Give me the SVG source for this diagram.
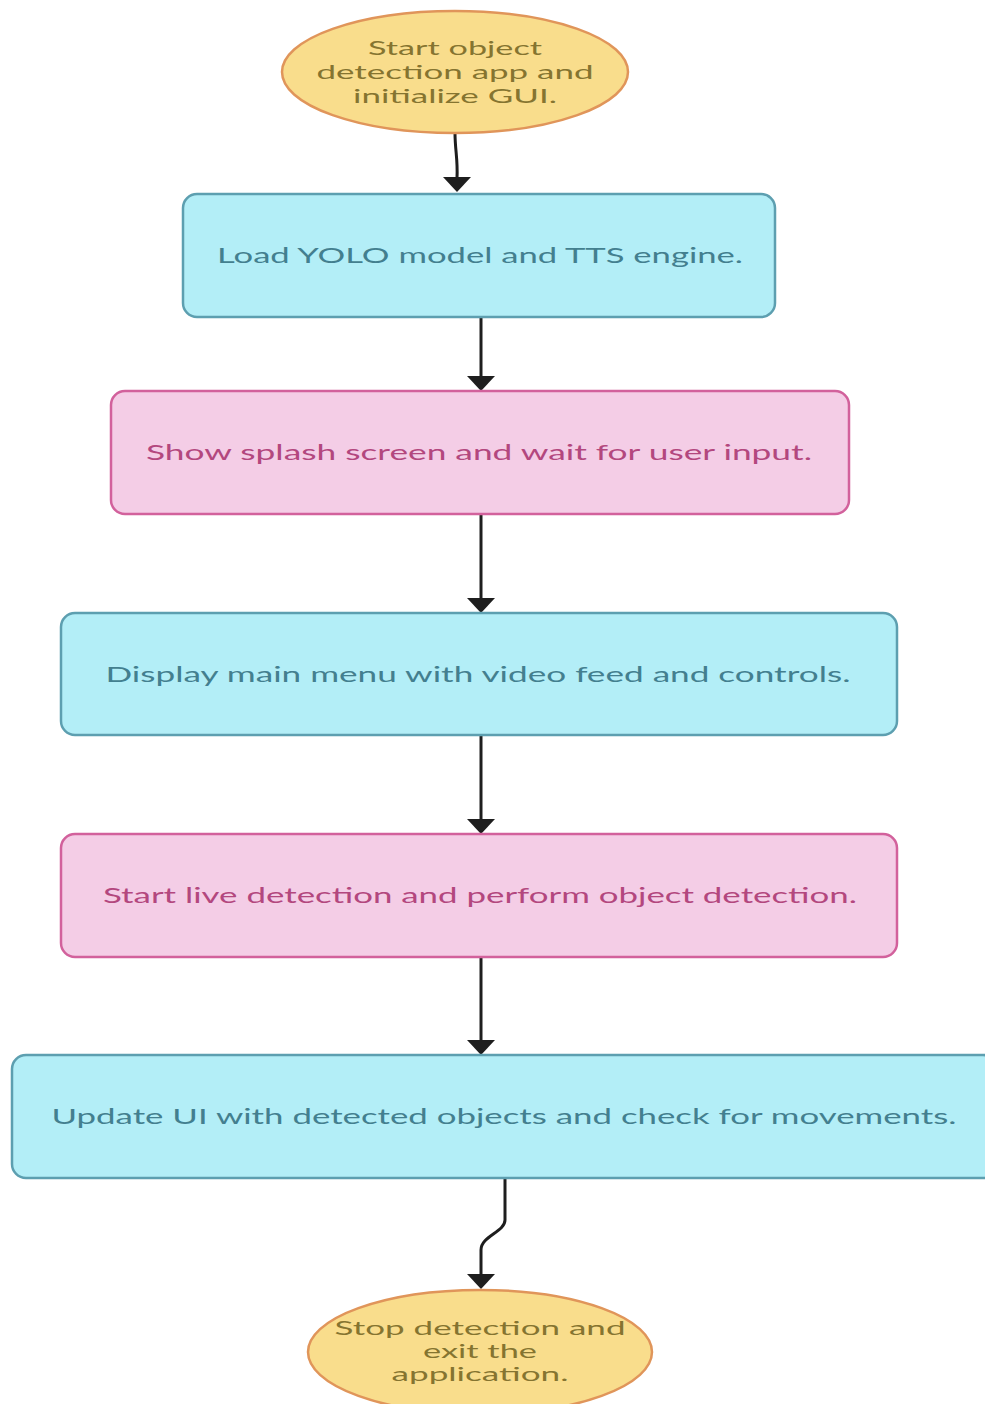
<svg xmlns="http://www.w3.org/2000/svg" width="985" height="1404" viewBox="0 0 985 1404">
<style>
text{font-family:Lato,"Open Sans","Liberation Sans",sans-serif;font-size:21px;text-anchor:middle}
.oval{fill:#f9dd8c;stroke:#e0955a;stroke-width:2.5}
.blue{fill:#b3eef7;stroke:#5d9fb0;stroke-width:2.5}
.pink{fill:#f4cde6;stroke:#d2619c;stroke-width:2.5}
.to{fill:#857430;font-size:19px}
.tb{fill:#437f8f}
.tp{fill:#b3477e}
.edge{fill:none;stroke:#1e1e1e;stroke-width:3}
.head{fill:#1e1e1e}
</style>
<rect width="985" height="1404" fill="#ffffff"/>
<g id="connectors">
<path class="edge" d="M455,133 C455,150 458,160 457,178"/>
<polygon class="head" points="443,177 471,177 457,192"/>
<path class="edge" d="M481,317 L481,377"/>
<polygon class="head" points="467,376 495,376 481,391"/>
<path class="edge" d="M481,514 L481,599"/>
<polygon class="head" points="467,598 495,598 481,613"/>
<path class="edge" d="M481,735 L481,820"/>
<polygon class="head" points="467,819 495,819 481,834"/>
<path class="edge" d="M481,957 L481,1041"/>
<polygon class="head" points="467,1040 495,1040 481,1055"/>
<path class="edge" d="M505,1178 L505,1220 C505,1232 481,1236 481,1250 L481,1275"/>
<polygon class="head" points="467,1274 495,1274 481,1289"/>
</g>
<g id="start">
<ellipse class="oval" cx="455" cy="72" rx="173" ry="61"/>
<text class="to" x="455" y="55" textLength="174" lengthAdjust="spacingAndGlyphs">Start object</text>
<text class="to" x="455" y="79" textLength="277" lengthAdjust="spacingAndGlyphs">detection app and</text>
<text class="to" x="455" y="103" textLength="204" lengthAdjust="spacingAndGlyphs">initialize GUI.</text>
</g>
<g id="load">
<rect class="blue" x="183" y="194" width="592" height="123" rx="14"/>
<text class="tb" x="480" y="263" textLength="526" lengthAdjust="spacingAndGlyphs">Load YOLO model and TTS engine.</text>
</g>
<g id="splash">
<rect class="pink" x="111" y="391" width="738" height="123" rx="14"/>
<text class="tp" x="479" y="460" textLength="666" lengthAdjust="spacingAndGlyphs">Show splash screen and wait for user input.</text>
</g>
<g id="menu">
<rect class="blue" x="61" y="613" width="836" height="122" rx="14"/>
<text class="tb" x="478" y="682" textLength="745" lengthAdjust="spacingAndGlyphs">Display main menu with video feed and controls.</text>
</g>
<g id="detect">
<rect class="pink" x="61" y="834" width="836" height="123" rx="14"/>
<text class="tp" x="480" y="903" textLength="754" lengthAdjust="spacingAndGlyphs">Start live detection and perform object detection.</text>
</g>
<g id="update">
<rect class="blue" x="12" y="1055" width="985" height="123" rx="14"/>
<text class="tb" x="504" y="1124" textLength="905" lengthAdjust="spacingAndGlyphs">Update UI with detected objects and check for movements.</text>
</g>
<g id="stop">
<ellipse class="oval" cx="480" cy="1352" rx="172" ry="62"/>
<text class="to" x="480" y="1335" textLength="291" lengthAdjust="spacingAndGlyphs">Stop detection and</text>
<text class="to" x="480" y="1358" textLength="114" lengthAdjust="spacingAndGlyphs">exit the</text>
<text class="to" x="480" y="1381" textLength="177" lengthAdjust="spacingAndGlyphs">application.</text>
</g>
</svg>
